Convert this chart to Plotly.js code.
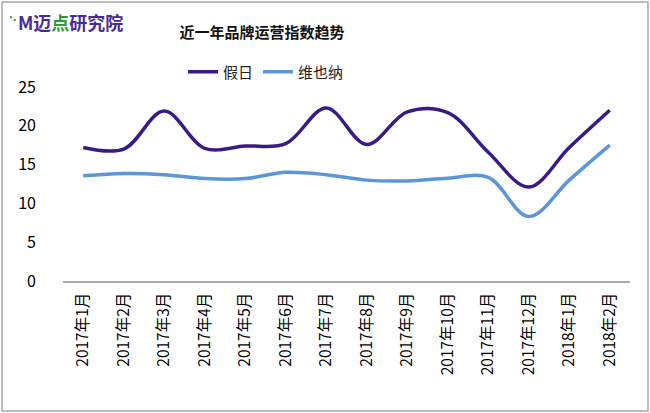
<!DOCTYPE html>
<html><head><meta charset="utf-8">
<script src="https://cdn.plot.ly/plotly-3.0.1.min.js"></script>
<style>body{margin:0;padding:0;background:#fff}#c{width:650px;height:413px}</style>
</head><body><div id="c"></div>
<script>
const categories = ["2017年1月","2017年2月","2017年3月","2017年4月","2017年5月","2017年6月","2017年7月","2017年8月","2017年9月","2017年10月","2017年11月","2017年12月","2018年1月","2018年2月"];
const jiari = [17.2, 17.0, 21.9, 17.1, 17.4, 17.7, 22.3, 17.6, 21.8, 21.7, 16.6, 12.1, 17.2, 22.0];
const weiyena = [13.55, 13.85, 13.7, 13.2, 13.2, 14.0, 13.7, 13.0, 12.9, 13.25, 13.35, 8.3, 13.0, 17.5];
const yTicks = [0, 5, 10, 15, 20, 25];

const font = "'Noto Sans CJK SC', 'Noto Sans', sans-serif";
const traces = [
  {x: categories, y: jiari, name: "假日", type: "scatter", mode: "lines",
   line: {color: "#3a1a87", width: 3.5, shape: "spline", smoothing: 1}},
  {x: categories, y: weiyena, name: "维也纳", type: "scatter", mode: "lines",
   line: {color: "#5b97d8", width: 3.5, shape: "spline", smoothing: 1}}
];
const layout = {
  width: 650, height: 413,
  margin: {l: 63, r: 20, t: 87, b: 132},
  paper_bgcolor: "#fff", plot_bgcolor: "#fff",
  font: {family: font, color: "#000"},
  title: {text: "<b>近一年品牌运营指数趋势</b>", xref: "paper", x: 0.351, xanchor: "center", yref: "container", y: 0.92, yanchor: "middle",
          font: {size: 15, color: "#111", family: font}},
  showlegend: true,
  legend: {orientation: "h", x: 0.358, xanchor: "center", y: 1.077, yanchor: "middle",
           font: {size: 15, color: "#222", family: font}, itemwidth: 30, tracegroupgap: 0},
  xaxis: {type: "category", tickangle: -90, tickfont: {size: 15.5, family: font, color: "#000"},
          showgrid: false, showline: true, linecolor: "#aaa", linewidth: 1.5, ticks: "", zeroline: false,
          range: [-0.5, categories.length - 0.5], ticklabelstandoff: 4},
  yaxis: {range: [0, 25], tickvals: yTicks, showgrid: false, showline: false, zeroline: false,
          ticks: "", tickfont: {size: 16, family: font, color: "#000"}, ticklabelstandoff: 26},
  shapes: [
    {type: "rect", xref: "paper", yref: "paper", x0: -0.1076, x1: 1.0317, y0: -0.670, y1: 1.438,
     line: {color: "#a6a6a6", width: 1.5}, fillcolor: "rgba(0,0,0,0)"},
    {type: "rect", xref: "paper", yref: "paper", x0: -0.0935, x1: -0.0900, y0: 1.355, y1: 1.365,
     line: {width: 0}, fillcolor: "#2a9a3a"},
    {type: "rect", xref: "paper", yref: "paper", x0: -0.0870, x1: -0.0835, y0: 1.340, y1: 1.350,
     line: {width: 0}, fillcolor: "#2a9a3a"}
  ],
  annotations: [
    {xref: "paper", yref: "paper", x: -0.083, y: 1.335, xanchor: "left", yanchor: "middle", showarrow: false,
     text: "<b><span style='color:#4a2a96'>M</span><span style='color:#4a2a96'>迈</span><span style='color:#2a9a3a'>点</span><span style='color:#4a2a96'>研究院</span></b>",
     font: {size: 18, family: font}}
  ]
};
Plotly.newPlot("c", traces, layout, {displayModeBar: false, staticPlot: true});
</script></body></html>
